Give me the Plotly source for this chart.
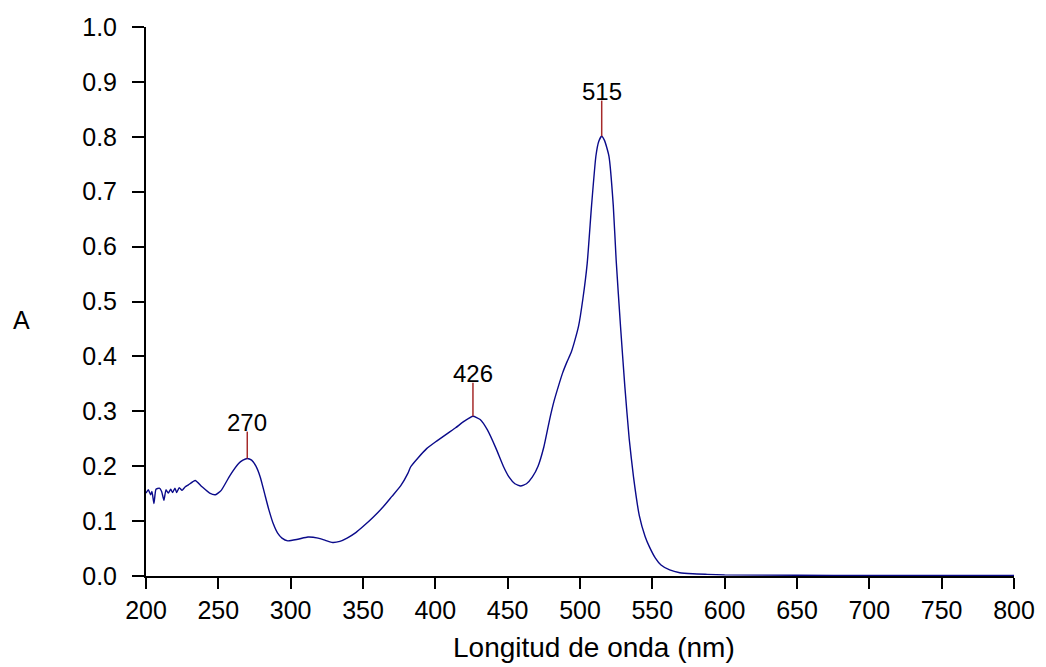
import plotly.graph_objects as go

# UV-Vis absorption spectrum
wavelength_nm = [
    200, 201.6, 203.2, 204.1, 205.5, 206.9, 209.2, 210.8, 212.4, 213.8,
    215.4, 217.1, 218.4, 220, 221.2, 223, 224.9, 227, 229.3, 234,
    238.5, 244, 248, 252, 258, 264, 267, 270, 273, 276,
    279, 282, 285, 288, 291, 294, 298, 305, 312, 319,
    324, 329, 334, 339, 345, 350, 357, 364, 370, 376,
    381, 383, 388, 394, 400, 408, 414, 420, 426, 431,
    436, 442, 447, 451, 455, 459, 463, 467, 471, 475,
    479, 482, 485, 488, 491, 494, 496, 499, 502, 505,
    508, 511, 513, 515, 517, 520, 523, 525, 528, 531,
    534, 537, 541, 545, 548, 552, 556, 562, 569, 578,
    588, 600, 650, 700, 750, 800,
]
absorbance = [
    0.151, 0.157, 0.148, 0.154, 0.132, 0.158, 0.160, 0.154, 0.138, 0.157,
    0.151, 0.158, 0.152, 0.160, 0.152, 0.161, 0.156, 0.162, 0.166, 0.174,
    0.163, 0.151, 0.148, 0.156, 0.183, 0.205, 0.211, 0.214, 0.211, 0.200,
    0.180, 0.150, 0.120, 0.095, 0.078, 0.069, 0.064, 0.067, 0.071, 0.069,
    0.065, 0.061, 0.063, 0.069, 0.079, 0.090, 0.107, 0.126, 0.145, 0.164,
    0.187, 0.199, 0.215, 0.232, 0.244, 0.259, 0.270, 0.282, 0.291, 0.285,
    0.266, 0.232, 0.200, 0.180, 0.168, 0.164, 0.168, 0.180, 0.200, 0.235,
    0.285, 0.318, 0.345, 0.370, 0.390, 0.408, 0.425, 0.455, 0.505, 0.570,
    0.675, 0.765, 0.792, 0.801, 0.793, 0.765, 0.675, 0.575, 0.455, 0.345,
    0.250, 0.180, 0.110, 0.072, 0.053, 0.033, 0.020, 0.011, 0.006, 0.004,
    0.003, 0.002, 0.0015, 0.001, 0.001, 0.001,
]

# Labelled absorption maxima
peak_nm = [270, 426, 515]
peak_abs = [0.214, 0.291, 0.801]
stem_top = [0.263, 0.352, 0.866]
peak_labels = ["270", "426", "515"]

x_ticks = [200, 250, 300, 350, 400, 450, 500, 550, 600, 650, 700, 750, 800]
y_ticks = [0.0, 0.1, 0.2, 0.3, 0.4, 0.5, 0.6, 0.7, 0.8, 0.9, 1.0]
y_tick_text = ["0.0", "0.1", "0.2", "0.3", "0.4", "0.5", "0.6", "0.7", "0.8", "0.9", "1.0"]

FONT = "Liberation Sans, Arial, sans-serif"

fig = go.Figure()
fig.add_trace(go.Scatter(
    x=wavelength_nm, y=absorbance, mode="lines",
    line=dict(color="#0a0a8a", width=1.4, shape="spline", smoothing=0.5),
    hoverinfo="skip", showlegend=False,
))

for nm, a, top, lab in zip(peak_nm, peak_abs, stem_top, peak_labels):
    fig.add_shape(type="line", xref="x", yref="y", x0=nm, x1=nm, y0=a, y1=top,
                  line=dict(color="#a52a2a", width=1.5))
    fig.add_annotation(x=nm, y=top, xref="x", yref="y", text=lab, showarrow=False,
                       xanchor="center", yanchor="middle", yshift=9,
                       font=dict(family=FONT, size=24, color="black"))

# Axis titles
fig.add_annotation(xref="paper", yref="paper", x=-0.1429, y=0.4663, text="A",
                   showarrow=False, xanchor="center", yanchor="middle",
                   font=dict(family=FONT, size=25, color="black"))
fig.add_annotation(xref="paper", yref="paper", x=0.5156, y=-0.131,
                   text="Longitud de onda (nm)", showarrow=False,
                   xanchor="center", yanchor="middle",
                   font=dict(family=FONT, size=28, color="black"))

fig.update_layout(
    width=1046, height=667,
    margin=dict(l=146, r=32, t=27, b=91),
    paper_bgcolor="white", plot_bgcolor="white",
    font=dict(family=FONT, color="black"),
    xaxis=dict(range=[200, 800], tickvals=x_ticks, ticks="outside", ticklen=11,
               tickwidth=2, tickcolor="black", showline=True, linecolor="black",
               linewidth=2, showgrid=False, zeroline=False,
               tickfont=dict(family=FONT, size=25, color="black"),
               ticklabelstandoff=0),
    yaxis=dict(range=[0, 1.0], tickvals=y_ticks, ticktext=y_tick_text,
               ticks="outside", ticklen=12, tickwidth=2, tickcolor="black",
               showline=True, linecolor="black", linewidth=2, showgrid=False,
               zeroline=False, tickfont=dict(family=FONT, size=25, color="black"),
               ticklabelstandoff=10),
)

fig.write_html("out.html")
